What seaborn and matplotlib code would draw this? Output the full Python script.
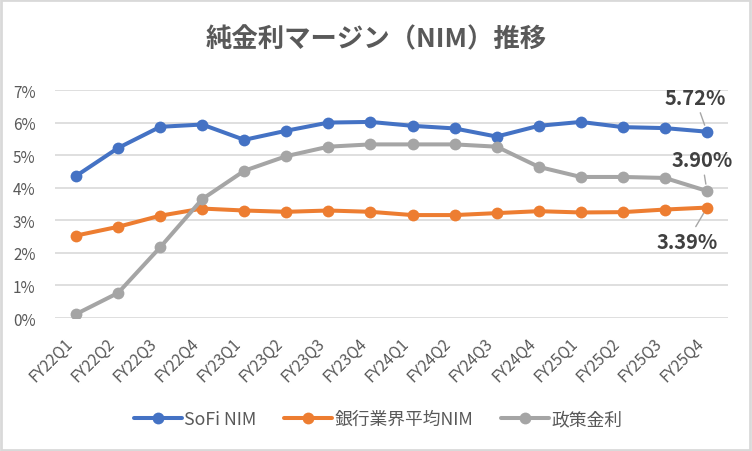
import matplotlib
matplotlib.use("Agg")
import matplotlib.pyplot as plt
import matplotlib.patches as mpatches
import seaborn as sns
import pandas as pd
import numpy as np

quarters = ["FY22Q1", "FY22Q2", "FY22Q3", "FY22Q4",
            "FY23Q1", "FY23Q2", "FY23Q3", "FY23Q4",
            "FY24Q1", "FY24Q2", "FY24Q3", "FY24Q4",
            "FY25Q1", "FY25Q2", "FY25Q3", "FY25Q4"]
sofi_nim = [4.36, 5.22, 5.87, 5.94, 5.47, 5.75, 6.00, 6.02,
            5.90, 5.82, 5.57, 5.90, 6.02, 5.86, 5.83, 5.72]
bank_nim = [2.53, 2.80, 3.14, 3.36, 3.30, 3.26, 3.30, 3.26,
            3.16, 3.16, 3.22, 3.28, 3.24, 3.25, 3.33, 3.39]
policy_rate = [0.12, 0.77, 2.17, 3.65, 4.52, 4.97, 5.26, 5.33,
               5.33, 5.33, 5.26, 4.64, 4.33, 4.33, 4.30, 3.90]
series_names = ["SoFi NIM", "銀行業界平均NIM", "政策金利"]
colors = ["#4472C4", "#ED7D31", "#A5A5A5"]
title = "純金利マージン（NIM）推移"
yticks = [0, 1, 2, 3, 4, 5, 6, 7]

sns.set_theme(style="white")
plt.rcParams['font.family'] = ['Noto Sans CJK JP', 'DejaVu Sans']

df = pd.DataFrame({
    "quarter": quarters * 3,
    "value": sofi_nim + bank_nim + policy_rate,
    "series": [series_names[0]] * 16 + [series_names[1]] * 16 + [series_names[2]] * 16,
})
df["quarter"] = pd.Categorical(df["quarter"], categories=quarters, ordered=True)

fig = plt.figure(figsize=(7.52, 4.52), dpi=100)
ax = fig.add_axes([55 / 752, 1 - 319 / 452, (728 - 55) / 752, (319 - 91) / 452])

sns.lineplot(data=df, x="quarter", y="value", hue="series",
             hue_order=series_names, palette=colors, marker="o",
             markersize=8.5, markeredgewidth=0, linewidth=2.9,
             sort=False, ax=ax, legend=True)

ax.set_xlim(-0.5, len(quarters) - 0.5)
ax.set_ylim(0, 7)
ax.set_yticks(yticks)
ax.set_yticklabels([f"{v}%" for v in yticks])
ax.set_xticks(range(len(quarters)))
ax.set_xticklabels(quarters, rotation=45, ha="right", rotation_mode="default")
ax.tick_params(axis="x", length=0, pad=12, labelsize=11.2, colors="#595959")
ax.tick_params(axis="y", length=0, pad=14, labelsize=11, colors="#595959")
ax.set_xlabel("")
ax.set_ylabel("")
ax.grid(axis="y", color="#d9d9d9", linewidth=1.2)
ax.set_axisbelow(True)
for s in ax.spines.values():
    s.set_visible(False)

# legend
handles, labels = ax.get_legend_handles_labels()
ax.get_legend().remove()
fig.legend(handles, labels, loc="center", bbox_to_anchor=(378 / 752, 1 - 420 / 452),
           ncol=3, frameon=False, fontsize=12.8, handlelength=2.7,
           handletextpad=0.1, columnspacing=1.6, labelcolor="#595959")

# title
fig.text(376 / 752, 1 - 40 / 452, title, ha="center", va="center",
         fontsize=19, color="#595959", fontweight="bold")

# end labels
last = len(quarters) - 1
ann = [(sofi_nim[last], (-12, 34)), (policy_rate[last], (-5, 31)), (bank_nim[last], (-20, -34))]
for val, off in ann:
    ax.annotate(f"{val:.2f}%", xy=(last, val), xytext=off, textcoords="offset pixels",
                ha="center", va="center", fontsize=14.5, fontweight="bold", color="#404040",
                arrowprops=dict(arrowstyle="-", color="#a6a6a6", lw=1, shrinkA=1, shrinkB=5))

# figure border
fig.patches.append(mpatches.Rectangle((0.001, 0.002), 0.996, 0.995, transform=fig.transFigure,
                                      fill=False, edgecolor="#d9d9d9", linewidth=2))

fig.savefig("out.png", dpi=100)
